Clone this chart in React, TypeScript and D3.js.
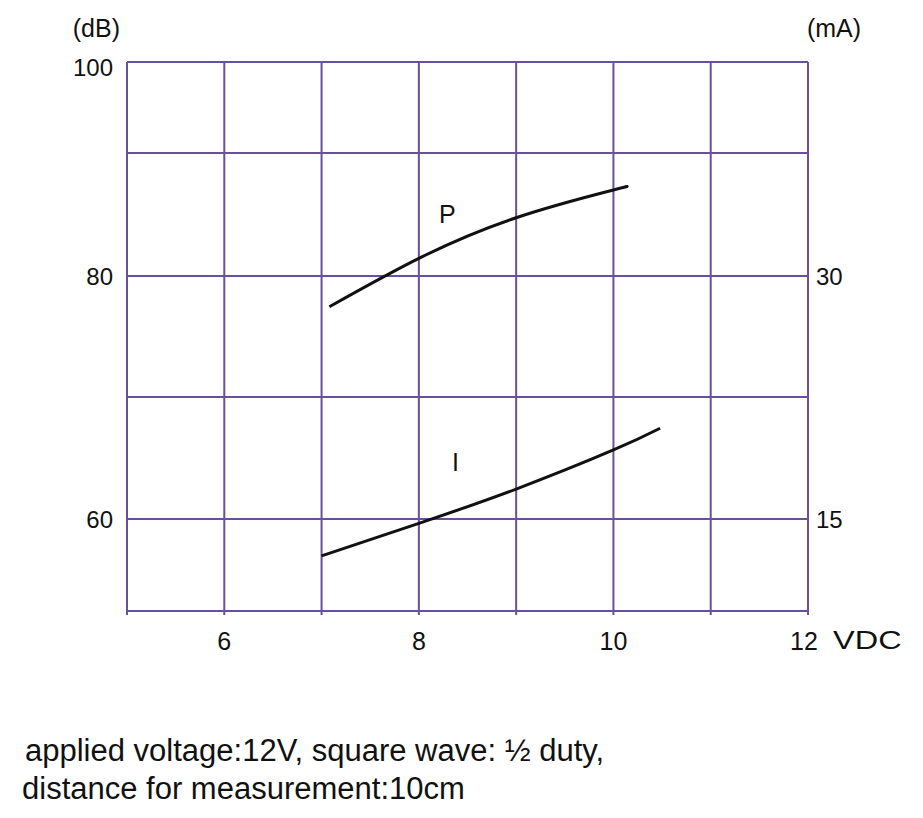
import React from "react";
import * as d3 from "d3";

const xTicks = [6, 8, 10, 12];
const xGrid = [5, 6, 7, 8, 9, 10, 11, 12];
const dbGrid = [52.5, 60, 70, 80, 91.5, 100];
const dbTicks = [60, 80, 100];
const maTicks = [15, 30];

const pVolt = [7.08, 8, 9, 10, 10.1];
const pDb = [77.46, 81.65, 85.45, 88.04, 88.26];
const iVolt = [7.0, 8, 9, 10, 10.48];
const iMa = [12.72, 14.73, 16.85, 19.26, 20.6];

const W = 923;
const H = 818;
const FONT = "'Liberation Sans', Arial, sans-serif";
const GRID = "#6a4f9c";

export default function App() {
  const x = d3.scaleLinear().domain([5, 12]).range([127, 808]);
  const yDb = d3.scaleLinear().domain([52.5, 60, 70, 80, 91.5, 100]).range([611, 519, 397, 276, 153, 62]);
  const yMa = d3.scaleLinear().domain([15, 30]).range([519, 276]);

  const pLine = d3
    .line<number>()
    .x((_, i) => x(pVolt[i]))
    .y((d) => yDb(d))
    .curve(d3.curveNatural)(pDb);
  const iLine = d3
    .line<number>()
    .x((_, i) => x(iVolt[i]))
    .y((d) => yMa(d))
    .curve(d3.curveNatural)(iMa);

  const top = yDb(100);
  const bottom = yDb(52.5);
  const left = x(5);
  const right = x(12);

  return (
    <svg width={W} height={H} style={{ position: "absolute", left: 0, top: 0, background: "#fff" }} fontFamily={FONT}>
      <rect x={0} y={0} width={W} height={H} fill="#fff" />
      {xGrid.map((v) => (
        <line key={"vx" + v} x1={x(v)} x2={x(v)} y1={top} y2={bottom + 4} stroke={GRID} strokeWidth={2} />
      ))}
      {dbGrid.map((v) => (
        <line key={"hy" + v} x1={left} x2={right} y1={yDb(v)} y2={yDb(v)} stroke={GRID} strokeWidth={2} />
      ))}
      <path d={pLine || ""} fill="none" stroke="#111" strokeWidth={3} />
      <path d={iLine || ""} fill="none" stroke="#111" strokeWidth={3} />
      <text x={439} y={223} fontSize={25} fill="#111">P</text>
      <text x={452} y={471} fontSize={25} fill="#111">I</text>

      <text x={120} y={37} fontSize={25} textAnchor="end" fill="#111">(dB)</text>
      {dbTicks.map((v) => (
        <text key={"db" + v} x={113} y={yDb(v) + (v === 100 ? 14 : 9)} fontSize={24} textAnchor="end" fill="#111">{v}</text>
      ))}
      <text x={834} y={37} fontSize={25} textAnchor="middle" fill="#111">(mA)</text>
      {maTicks.map((v) => (
        <text key={"ma" + v} x={816} y={yMa(v) + 9} fontSize={24} fill="#111">{v}</text>
      ))}
      {xTicks.map((v) => (
        <text key={"xt" + v} x={x(v) - (v === 12 ? 4 : 0)} y={650} fontSize={25} textAnchor="middle" fill="#111">{v}</text>
      ))}
      <text transform="translate(833,649) scale(1.3,1)" fontSize={25} fill="#111">VDC</text>

      <text x={25} y={761} fontSize={31} fill="#111">applied voltage:12V, square wave: ½ duty,</text>
      <text x={22} y={799} fontSize={31} fill="#111">distance for measurement:10cm</text>
    </svg>
  );
}
